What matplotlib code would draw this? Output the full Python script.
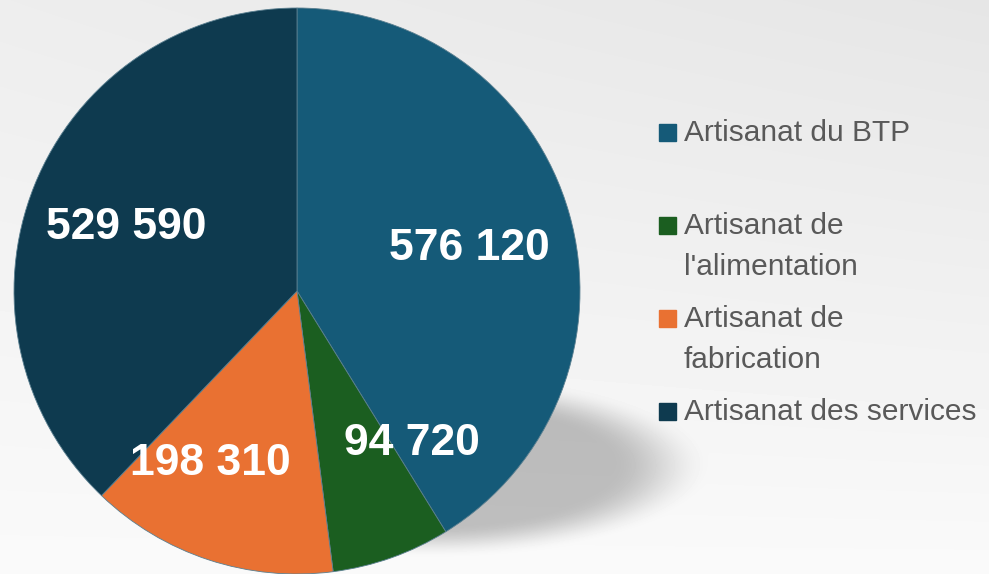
# -*- coding: utf-8 -*-
"""
Pie chart: number of craft businesses by sector.
"""

# --IMPORTS---
import numpy as np
import matplotlib
matplotlib.use('Agg')
import matplotlib.pyplot as plt
from matplotlib.patches import Rectangle

# --DATA---
categories = ["Artisanat du BTP", "Artisanat de\nl'alimentation",
              "Artisanat de\nfabrication", "Artisanat des services"]
values = [576120, 94720, 198310, 529590]
colors = ['#155a78', '#1b5e20', '#e97132', '#0e3a4f']

# --CONSTANTS---
W, H, DPI = 989, 574, 100
label_shift = [-1.0, 18.0, -9.0, 0.5]     # degrees, label angle tweak
label_dist = [0.63, 0.665, 0.673, 0.646]


def fmt(v):
    return '{:,}'.format(v).replace(',', ' ')


def main():
    fig = plt.figure(figsize=(W / DPI, H / DPI), dpi=DPI)

    # Background gradient with soft drop shadow (pixel grid)
    bg = fig.add_axes([0, 0, 1, 1])
    yy, xx = np.mgrid[0:H, 0:W].astype(float)
    fy, fx = yy / H, xx / W
    grad = 0.90 + 0.08 * fy + 0.03 * (1 - fx) * (1 - fy)
    d = np.sqrt(((xx - 430) / 252.0) ** 2 + ((yy - 466) / 82.0) ** 2)
    s = np.clip((1.12 - d) / 0.4, 0, 1)
    s = s * s * (3 - 2 * s)
    grad = grad - 0.23 * s
    bg.imshow(grad, cmap='gray', vmin=0, vmax=1, aspect='auto',
              extent=[0, 1, 0, 1], origin='upper', interpolation='bilinear')
    bg.axis('off')

    # Pie axes: centre (297, 291) px, radius 283 px
    r_px = 283
    ax = fig.add_axes([(297 - r_px) / W, (H - 291 - r_px) / H,
                       2 * r_px / W, 2 * r_px / H])
    ax.set_facecolor('none')

    wedges, _ = ax.pie(values, colors=colors, startangle=90, counterclock=False,
                       radius=1, wedgeprops=dict(linewidth=0.6, edgecolor='#5a7f90'))

    for w, v, da, dd in zip(wedges, values, label_shift, label_dist):
        ang = np.deg2rad((w.theta1 + w.theta2) / 2 + da)
        ax.text(dd * np.cos(ang), dd * np.sin(ang) - 0.01, fmt(v), ha='center',
                va='center', color='white', fontsize=32, fontweight='bold',
                family='Liberation Sans', zorder=3)

    ax.set_xlim(-1, 1)
    ax.set_ylim(-1, 1)
    ax.axis('off')

    # Legend (custom, Excel style)
    lg = fig.add_axes([0, 0, 1, 1])
    lg.set_xlim(0, W)
    lg.set_ylim(H, 0)
    lg.axis('off')
    lg.set_facecolor('none')
    y0, step = 132, 93
    for i, (lab, c) in enumerate(zip(categories, colors)):
        y = y0 + i * step
        lg.add_patch(Rectangle((659, y - 8.5), 17, 17, color=c))
        lg.text(684, y - 13, lab, ha='left', va='top', color='#595959',
                fontsize=21.5, family='Liberation Sans', linespacing=1.6)

    fig.savefig('out.png', dpi=DPI)


# ---MAIN---
if __name__ == '__main__':
    main()
